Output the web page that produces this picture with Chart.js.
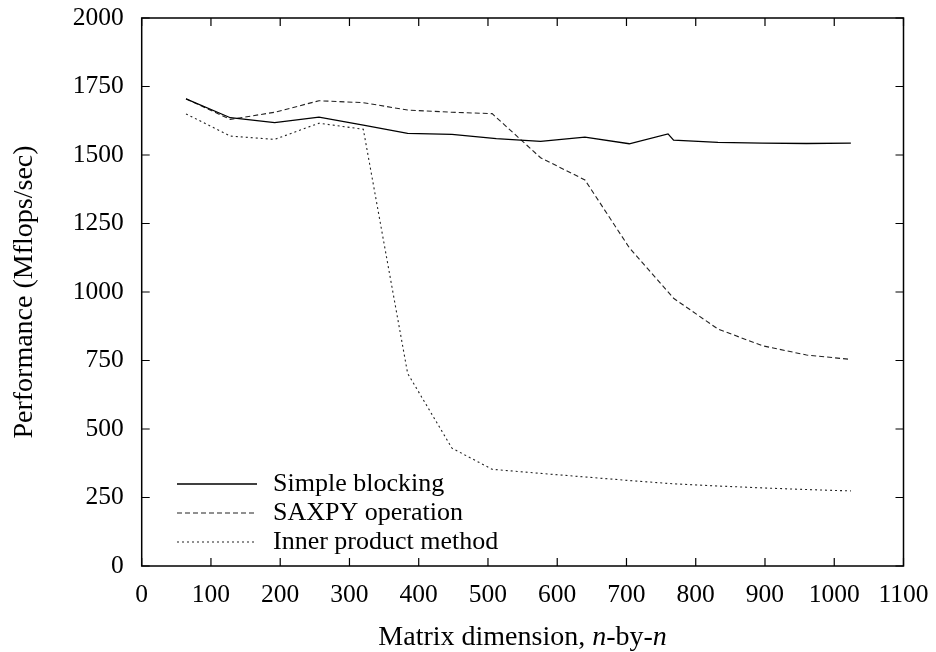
<!DOCTYPE html>
<html>
<head>
<meta charset="utf-8">
<script src="https://cdn.jsdelivr.net/npm/chart.js@4.4.0/dist/chart.umd.min.js"></script>
<style>
  html, body { margin: 0; padding: 0; background: #fff; }
  #wrap { width: 936px; height: 652px; }
</style>
</head>
<body>
<div id="wrap"><canvas id="perfChart" width="936" height="652"></canvas></div>
<script>
// matrix size (n) and Mflops/sec
const sizesBlocking = [64, 128, 192, 256, 320, 384, 448, 512, 576, 640, 704, 760, 768, 832, 896, 960, 1024];
const mflopsBlocking = [1705, 1636, 1618, 1638, 1609, 1579, 1575, 1560, 1550, 1565, 1541, 1577, 1554, 1546, 1543, 1542, 1543];

const sizesSaxpy = [64, 128, 192, 256, 320, 384, 448, 506, 576, 640, 704, 768, 832, 896, 960, 1024];
const mflopsSaxpy = [1705, 1630, 1656, 1698, 1691, 1664, 1656, 1651, 1490, 1409, 1162, 977, 865, 804, 770, 754];

const sizesInner = [64, 128, 192, 256, 320, 384, 448, 506, 576, 640, 704, 768, 832, 896, 960, 1024];
const mflopsInner = [1650, 1569, 1557, 1616, 1594, 703, 430, 353, 338, 325, 312, 300, 292, 285, 279, 274];

const seriesNames = ['Simple blocking', 'SAXPY operation', 'Inner product method'];
const xTicks = [0, 100, 200, 300, 400, 500, 600, 700, 800, 900, 1000, 1100];
const yTicks = [0, 250, 500, 750, 1000, 1250, 1500, 1750, 2000];

const FONT = '"Liberation Serif", "DejaVu Serif", serif';
const TICK_SIZE = 25.5;
const LEGEND_SIZE = 26;
const TITLE_SIZE = 28;

function toPoints(xs, ys) {
    return xs.map((x, i) => ({ x: x, y: ys[i] }));
}

// gnuplot-ish frame: box, inward ticks on all four sides, legend inside, axis titles
const framePlugin = {
    id: 'frame',
    afterDraw(chart) {
        const ctx = chart.ctx;
        const a = chart.chartArea;
        const xs = chart.scales.x;
        const ys = chart.scales.y;
        const tick = 8;

        ctx.save();
        ctx.strokeStyle = '#000';
        ctx.lineWidth = 1.5;
        ctx.strokeRect(a.left, a.top, a.right - a.left, a.bottom - a.top);

        ctx.lineWidth = 1.2;
        ctx.beginPath();
        xTicks.forEach(v => {
            const px = xs.getPixelForValue(v);
            ctx.moveTo(px, a.bottom); ctx.lineTo(px, a.bottom - tick);
            ctx.moveTo(px, a.top); ctx.lineTo(px, a.top + tick);
        });
        yTicks.forEach(v => {
            const py = ys.getPixelForValue(v);
            ctx.moveTo(a.left, py); ctx.lineTo(a.left + tick, py);
            ctx.moveTo(a.right, py); ctx.lineTo(a.right - tick, py);
        });
        ctx.stroke();

        // legend, bottom-left inside the plot
        ctx.font = LEGEND_SIZE + 'px ' + FONT;
        ctx.textBaseline = 'alphabetic';
        ctx.textAlign = 'left';
        ctx.fillStyle = '#000';
        chart.data.datasets.forEach((ds, i) => {
            const base = 491 + i * 29;
            ctx.beginPath();
            ctx.setLineDash(ds.borderDash || []);
            ctx.strokeStyle = ds.borderColor;
            ctx.lineWidth = ds.borderWidth;
            ctx.moveTo(177, base - 7);
            ctx.lineTo(257, base - 7);
            ctx.stroke();
            ctx.fillText(ds.label, 273, base);
        });
        ctx.setLineDash([]);

        // x title with italic n
        const parts = [
            { t: 'Matrix dimension, ', i: false },
            { t: 'n', i: true },
            { t: '-by-', i: false },
            { t: 'n', i: true }
        ];
        let total = 0;
        parts.forEach(p => {
            ctx.font = (p.i ? 'italic ' : '') + TITLE_SIZE + 'px ' + FONT;
            p.w = ctx.measureText(p.t).width;
            total += p.w;
        });
        let x = (a.left + a.right) / 2 - total / 2;
        parts.forEach(p => {
            ctx.font = (p.i ? 'italic ' : '') + TITLE_SIZE + 'px ' + FONT;
            ctx.fillText(p.t, x, 645);
            x += p.w;
        });

        // y title
        ctx.font = TITLE_SIZE + 'px ' + FONT;
        ctx.translate(32, (a.top + a.bottom) / 2);
        ctx.rotate(-Math.PI / 2);
        ctx.textAlign = 'center';
        ctx.fillText('Performance (Mflops/sec)', 0, 0);
        ctx.restore();
    }
};

const ctx = document.getElementById('perfChart').getContext('2d');
new Chart(ctx, {
    type: 'line',
    data: {
        datasets: [
            {
                label: seriesNames[0],
                data: toPoints(sizesBlocking, mflopsBlocking),
                borderColor: '#000',
                borderWidth: 1.3,
                pointRadius: 0,
                tension: 0
            },
            {
                label: seriesNames[1],
                data: toPoints(sizesSaxpy, mflopsSaxpy),
                borderColor: '#222',
                borderWidth: 1.1,
                borderDash: [5, 3],
                pointRadius: 0,
                tension: 0
            },
            {
                label: seriesNames[2],
                data: toPoints(sizesInner, mflopsInner),
                borderColor: '#222',
                borderWidth: 1.1,
                borderDash: [2, 3],
                pointRadius: 0,
                tension: 0
            }
        ]
    },
    options: {
        responsive: false,
        animation: false,
        devicePixelRatio: 1,
        layout: { padding: { top: 18, right: 32.5, left: 0, bottom: 0 } },
        plugins: {
            legend: { display: false },
            tooltip: { enabled: false }
        },
        scales: {
            x: {
                type: 'linear',
                min: 0,
                max: 1100,
                afterFit: s => { s.height = 86; s.paddingLeft = 0; s.paddingRight = 0; },
                afterBuildTicks: s => { s.ticks = xTicks.map(v => ({ value: v })); },
                ticks: {
                    color: '#000',
                    padding: 14,
                    maxRotation: 0,
                    autoSkip: false,
                    font: { family: FONT, size: TICK_SIZE },
                    callback: v => String(v)
                },
                grid: { display: false, drawTicks: false },
                border: { display: false }
            },
            y: {
                min: 0,
                max: 2000,
                afterFit: s => { s.width = 141.7; s.paddingTop = 0; s.paddingBottom = 0; },
                afterBuildTicks: s => { s.ticks = yTicks.map(v => ({ value: v })); },
                ticks: {
                    color: '#000',
                    padding: 18,
                    font: { family: FONT, size: TICK_SIZE },
                    callback: v => String(v)
                },
                grid: { display: false, drawTicks: false },
                border: { display: false }
            }
        }
    },
    plugins: [framePlugin]
});
</script>
</body>
</html>
